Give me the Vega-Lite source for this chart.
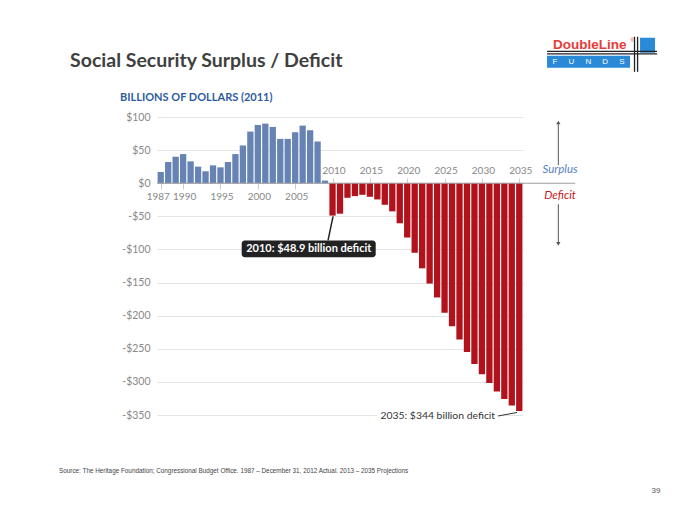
{
  "$schema": "https://vega.github.io/schema/vega-lite/v6.json",
  "width": 366,
  "height": 298,
  "autosize": {"type": "none"},
  "padding": {"left": 157, "top": 117, "right": 177, "bottom": 110},
  "background": "white",
  "config": {"view": {"stroke": null}, "scale": {"continuousPadding": 0}},
  "resolve": {"axis": {"x": "independent", "y": "independent"}},
  "layer": [
    {
      "data": {"values": [
        {"year": 1987, "value": 17}, {"year": 1988, "value": 32}, {"year": 1989, "value": 40},
        {"year": 1990, "value": 44}, {"year": 1991, "value": 33}, {"year": 1992, "value": 25},
        {"year": 1993, "value": 18}, {"year": 1994, "value": 27}, {"year": 1995, "value": 24},
        {"year": 1996, "value": 32}, {"year": 1997, "value": 44}, {"year": 1998, "value": 57},
        {"year": 1999, "value": 78}, {"year": 2000, "value": 88}, {"year": 2001, "value": 90},
        {"year": 2002, "value": 85}, {"year": 2003, "value": 67}, {"year": 2004, "value": 67},
        {"year": 2005, "value": 77}, {"year": 2006, "value": 87}, {"year": 2007, "value": 80},
        {"year": 2008, "value": 63}, {"year": 2009, "value": 4}, {"year": 2010, "value": -48.9},
        {"year": 2011, "value": -46}, {"year": 2012, "value": -22}, {"year": 2013, "value": -19.5},
        {"year": 2014, "value": -17.5}, {"year": 2015, "value": -20.5}, {"year": 2016, "value": -24.5},
        {"year": 2017, "value": -32.5}, {"year": 2018, "value": -42.5}, {"year": 2019, "value": -60.5},
        {"year": 2020, "value": -82}, {"year": 2021, "value": -105}, {"year": 2022, "value": -128.5},
        {"year": 2023, "value": -151.5}, {"year": 2024, "value": -172.5}, {"year": 2025, "value": -195.5},
        {"year": 2026, "value": -216}, {"year": 2027, "value": -236}, {"year": 2028, "value": -255},
        {"year": 2029, "value": -273}, {"year": 2030, "value": -288.5}, {"year": 2031, "value": -301.5},
        {"year": 2032, "value": -314.5}, {"year": 2033, "value": -326}, {"year": 2034, "value": -335.5},
        {"year": 2035, "value": -344}
      ]},
      "mark": {"type": "bar", "size": 6.3},
      "encoding": {
        "x": {
          "field": "year", "type": "quantitative",
          "scale": {"domain": [1986.5, 2035.5], "nice": false, "zero": false, "padding": 0},
          "axis": {
            "orient": "bottom", "offset": -232, "values": [1987, 1990, 1995, 2000, 2005],
            "format": "d", "domain": false, "grid": false, "tickSize": 6, "tickColor": "#cccccc",
            "labelPadding": 2, "labelColor": "#888888", "labelFont": "Lato", "labelFontSize": 10,
            "labelOffset": {"condition": {"test": "datum.value == 1987", "value": -3}, "value": 1},
            "labelFlush": false, "labelOverlap": false, "title": null
          }
        },
        "y": {
          "field": "value", "type": "quantitative",
          "scale": {"domain": [-350, 100], "nice": false, "padding": 0},
          "axis": {
            "values": [-350, -300, -250, -200, -150, -100, -50, 0, 50, 100],
            "labelExpr": "(datum.value < 0 ? '-$' : '$') + abs(datum.value)",
            "grid": true, "gridColor": "#e5e5e5", "domain": false, "ticks": false,
            "labelPadding": 7, "labelColor": "#888888", "labelFont": "Lato", "labelFontSize": 10.5,
            "labelOverlap": false, "title": null
          }
        },
        "color": {"condition": {"test": "datum.value >= 0", "value": "#6683b4"}, "value": "#b2121c"}
      }
    },
    {
      "data": {"values": [{}]},
      "mark": {"type": "rule", "color": "#9a9a9a", "strokeWidth": 1},
      "encoding": {
        "x": {
          "datum": 1986.5, "type": "quantitative",
          "axis": {
            "orient": "top", "offset": -66, "values": [2010, 2015, 2020, 2025, 2030, 2035],
            "format": "d", "domain": false, "grid": false, "tickSize": 5, "tickColor": "#cccccc",
            "labelPadding": 3, "labelColor": "#888888", "labelFont": "Lato", "labelFontSize": 10,
            "labelOffset": 1,
            "labelFlush": false, "labelOverlap": false, "title": null
          }
        },
        "x2": {"datum": 2042.5},
        "y": {"datum": 0, "type": "quantitative", "axis": null}
      }
    },
    {
      "data": {"values": [{}]},
      "mark": {"type": "rule", "color": "#222222", "strokeWidth": 1.5},
      "encoding": {
        "x": {"datum": 2010.07, "type": "quantitative", "axis": null},
        "x2": {"datum": 2009.4},
        "y": {"datum": -50, "type": "quantitative", "axis": null},
        "y2": {"datum": -86.4}
      }
    },
    {
      "data": {"values": [{}]},
      "mark": {"type": "rect", "color": "#222222", "cornerRadius": 3},
      "encoding": {
        "x": {"datum": 1997.84, "type": "quantitative", "axis": null},
        "x2": {"datum": 2015.78},
        "y": {"datum": -86.36, "type": "quantitative", "axis": null},
        "y2": {"datum": -111.67}
      }
    },
    {
      "data": {"values": [{}]},
      "mark": {"type": "text", "text": "2010: $48.9 billion deficit", "font": "Lato", "fontSize": 11, "fontWeight": "bold", "color": "#ffffff", "align": "center", "baseline": "middle"},
      "encoding": {
        "x": {"datum": 2006.82, "type": "quantitative", "axis": null},
        "y": {"datum": -98.9, "type": "quantitative", "axis": null}
      }
    },
    {
      "data": {"values": [{}]},
      "mark": {"type": "rect", "color": "#ffffff"},
      "encoding": {
        "x": {"datum": 2015.96, "type": "quantitative", "axis": null},
        "x2": {"datum": 2032.3},
        "y": {"datum": -340.9, "type": "quantitative", "axis": null},
        "y2": {"datum": -362.1}
      }
    },
    {
      "data": {"values": [{}]},
      "mark": {"type": "text", "text": "2035: $344 billion deficit", "font": "Lato", "fontSize": 10.4, "color": "#333333", "align": "right", "baseline": "middle"},
      "encoding": {
        "x": {"datum": 2031.76, "type": "quantitative", "axis": null},
        "y": {"datum": -351.5, "type": "quantitative", "axis": null}
      }
    },
    {
      "data": {"values": [{}]},
      "mark": {"type": "rule", "color": "#333333", "strokeWidth": 1},
      "encoding": {
        "x": {"datum": 2032.16, "type": "quantitative", "axis": null},
        "x2": {"datum": 2034.7},
        "y": {"datum": -351.5, "type": "quantitative", "axis": null},
        "y2": {"datum": -346.2}
      }
    },
    {
      "data": {"values": [{}]},
      "mark": {"type": "text", "text": "Surplus", "font": "Lato", "fontSize": 11.5, "fontStyle": "italic", "color": "#5a7fc2", "align": "center", "baseline": "middle"},
      "encoding": {
        "x": {"datum": 2040.46, "type": "quantitative", "axis": null},
        "y": {"datum": 19.7, "type": "quantitative", "axis": null}
      }
    },
    {
      "data": {"values": [{}]},
      "mark": {"type": "text", "text": "Deficit", "font": "Lato", "fontSize": 11.5, "fontStyle": "italic", "color": "#c4161c", "align": "center", "baseline": "middle"},
      "encoding": {
        "x": {"datum": 2040.46, "type": "quantitative", "axis": null},
        "y": {"datum": -19.7, "type": "quantitative", "axis": null}
      }
    },
    {
      "data": {"values": [{}]},
      "mark": {"type": "rule", "color": "#555555", "strokeWidth": 1},
      "encoding": {
        "x": {"datum": 2040.23, "type": "quantitative", "axis": null},
        "y": {"datum": 89.4, "type": "quantitative", "axis": null},
        "y2": {"datum": 27.3}
      }
    },
    {
      "data": {"values": [{}]},
      "mark": {"type": "rule", "color": "#555555", "strokeWidth": 1},
      "encoding": {
        "x": {"datum": 2040.23, "type": "quantitative", "axis": null},
        "y": {"datum": -31.8, "type": "quantitative", "axis": null},
        "y2": {"datum": -89.4}
      }
    },
    {
      "data": {"values": [{}]},
      "mark": {"type": "point", "shape": "triangle-up", "size": 18, "filled": true, "color": "#555555", "opacity": 1},
      "encoding": {
        "x": {"datum": 2040.23, "type": "quantitative", "axis": null},
        "y": {"datum": 91.7, "type": "quantitative", "axis": null}
      }
    },
    {
      "data": {"values": [{}]},
      "mark": {"type": "point", "shape": "triangle-down", "size": 18, "filled": true, "color": "#555555", "opacity": 1},
      "encoding": {
        "x": {"datum": 2040.23, "type": "quantitative", "axis": null},
        "y": {"datum": -91.7, "type": "quantitative", "axis": null}
      }
    },
    {
      "data": {"values": [{}]},
      "mark": {"type": "text", "text": "Social Security Surplus / Deficit", "font": "Lato", "fontSize": 19.5, "fontWeight": "bold", "color": "#404040", "align": "left", "baseline": "alphabetic"},
      "encoding": {
        "x": {"datum": 1974.86, "type": "quantitative", "axis": null},
        "y": {"datum": 176.2, "type": "quantitative", "axis": null}
      }
    },
    {
      "data": {"values": [{}]},
      "mark": {"type": "text", "text": "BILLIONS OF DOLLARS (2011)", "font": "Lato", "fontSize": 11, "fontWeight": "bold", "color": "#2d5c9e", "align": "left", "baseline": "middle"},
      "encoding": {
        "x": {"datum": 1981.55, "type": "quantitative", "axis": null},
        "y": {"datum": 128.8, "type": "quantitative", "axis": null}
      }
    },
    {
      "data": {"values": [{}]},
      "mark": {"type": "text", "text": "Source: The Heritage Foundation; Congressional Budget Office. 1987 – December 31, 2012 Actual. 2013 – 2035 Projections", "font": "Liberation Sans", "fontSize": 6.35, "color": "#444444", "align": "left", "baseline": "middle"},
      "encoding": {
        "x": {"datum": 1973.38, "type": "quantitative", "axis": null},
        "y": {"datum": -434.8, "type": "quantitative", "axis": null}
      }
    },
    {
      "data": {"values": [{}]},
      "mark": {"type": "text", "text": "39", "font": "Liberation Sans", "fontSize": 8, "color": "#555555", "align": "center", "baseline": "middle"},
      "encoding": {
        "x": {"datum": 2053.31, "type": "quantitative", "axis": null},
        "y": {"datum": -465.2, "type": "quantitative", "axis": null}
      }
    },
    {
      "data": {"values": [{}]},
      "mark": {"type": "rect", "color": "#2a8ad8"},
      "encoding": {
        "x": {"datum": 2038.72, "type": "quantitative", "axis": null},
        "x2": {"datum": 2049.83},
        "y": {"datum": 192.4, "type": "quantitative", "axis": null},
        "y2": {"datum": 174.2}
      }
    },
    {
      "data": {"values": [{}]},
      "mark": {"type": "rect", "color": "#2a8ad8"},
      "encoding": {
        "x": {"datum": 2051.17, "type": "quantitative", "axis": null},
        "x2": {"datum": 2053.18},
        "y": {"datum": 219.7, "type": "quantitative", "axis": null},
        "y2": {"datum": 197.0}
      }
    },
    {
      "data": {"values": [{}]},
      "mark": {"type": "rule", "color": "#222222", "strokeWidth": 1.3},
      "encoding": {
        "x": {"datum": 2038.72, "type": "quantitative", "axis": null},
        "x2": {"datum": 2053.45},
        "y": {"datum": 199.2, "type": "quantitative", "axis": null}
      }
    },
    {
      "data": {"values": [{}]},
      "mark": {"type": "rule", "color": "#222222", "strokeWidth": 1.3},
      "encoding": {
        "x": {"datum": 2038.72, "type": "quantitative", "axis": null},
        "x2": {"datum": 2053.45},
        "y": {"datum": 195.45, "type": "quantitative", "axis": null}
      }
    },
    {
      "data": {"values": [{}]},
      "mark": {"type": "rule", "color": "#222222", "strokeWidth": 1.3},
      "encoding": {
        "x": {"datum": 2050.43, "type": "quantitative", "axis": null},
        "y": {"datum": 221.2, "type": "quantitative", "axis": null},
        "y2": {"datum": 168.2}
      }
    },
    {
      "data": {"values": [{}]},
      "mark": {"type": "rule", "color": "#222222", "strokeWidth": 1.3},
      "encoding": {
        "x": {"datum": 2050.84, "type": "quantitative", "axis": null},
        "y": {"datum": 221.2, "type": "quantitative", "axis": null},
        "y2": {"datum": 168.2}
      }
    },
    {
      "data": {"values": [{}]},
      "mark": {"type": "text", "text": "DoubleLine", "font": "Liberation Sans", "fontSize": 13.5, "fontWeight": "bold", "color": "#e63b3b", "align": "left", "baseline": "alphabetic"},
      "encoding": {
        "x": {"datum": 2039.52, "type": "quantitative", "axis": null},
        "y": {"datum": 202.3, "type": "quantitative", "axis": null}
      }
    },
    {
      "data": {"values": [{}]},
      "mark": {"type": "text", "text": "®", "font": "Liberation Sans", "fontSize": 5, "color": "#e63b3b", "align": "left", "baseline": "middle"},
      "encoding": {
        "x": {"datum": 2049.9, "type": "quantitative", "axis": null},
        "y": {"datum": 216.0, "type": "quantitative", "axis": null}
      }
    },
    {
      "data": {"values": [{}]},
      "mark": {"type": "text", "text": "F\u00a0\u00a0\u00a0\u00a0\u00a0U\u00a0\u00a0\u00a0\u00a0\u00a0N\u00a0\u00a0\u00a0\u00a0\u00a0D\u00a0\u00a0\u00a0\u00a0\u00a0S", "font": "Liberation Sans", "fontSize": 8, "color": "#ffffff", "align": "center", "baseline": "middle"},
      "encoding": {
        "x": {"datum": 2044.28, "type": "quantitative", "axis": null},
        "y": {"datum": 183.3, "type": "quantitative", "axis": null}
      }
    }
  ]
}
